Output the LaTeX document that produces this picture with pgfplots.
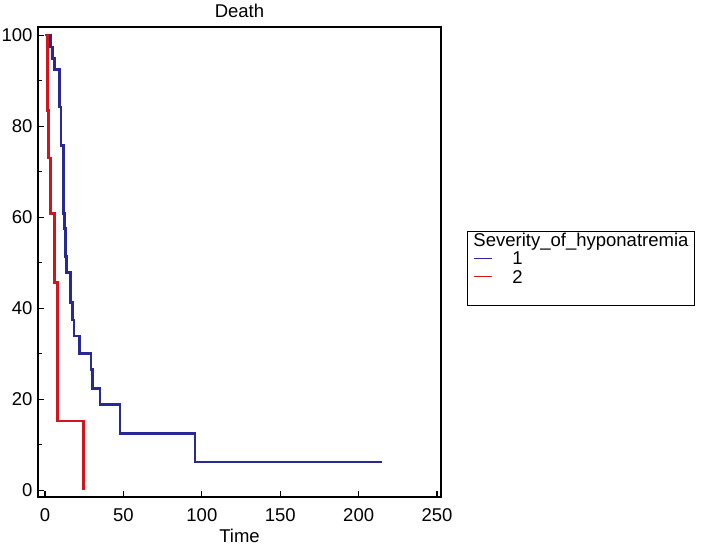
\documentclass[border=0pt]{standalone}
\usepackage{pgfplots}
\pgfplotsset{compat=1.18}
\usepackage{fontspec}
\setmainfont{Liberation Sans}

\definecolor{kmblue}{RGB}{40,40,150}
\definecolor{kmred}{RGB}{210,20,30}

\begin{document}
\begin{tikzpicture}
\useasboundingbox (-38pt,-50pt) rectangle (663pt,497pt);
\begin{axis}[
    scale only axis,
    width=403pt,
    height=470pt,
    xmin=-4.5, xmax=252.5,
    ymin=-1.5, ymax=101.8,
    xtick={0,50,100,150,200,250},
    ytick={0,20,40,60,80,100},
    minor y tick num=1,
    tick pos=left,
    tick align=inside,
    major tick length=6pt,
    minor tick length=4pt,
    axis line style={line width=2.6pt},
    every tick/.style={black, line width=1.2pt},
    font=\fontsize{18.5}{20}\selectfont,
    /pgf/number format/assume math mode=true,
    xticklabel style={yshift=-8pt},
    yticklabel style={xshift=-2pt},
    title={Death},
    xlabel={Time},
    xlabel style={yshift=-1pt},
    legend style={at={(1.0645,0.566)}, anchor=north west,
        draw=black, line width=1pt, inner xsep=4pt, inner ysep=0pt,
        font=\fontsize{18.5}{18}\selectfont, row sep=0pt,
        cells={anchor=west, inner ysep=0pt, text height=12.9pt, text depth=4.4pt}},
]
% Kaplan-Meier curves
\addplot[forget plot, const plot mark left, color=kmblue, line width=2.6pt] coordinates {
    (0,100) (3.6,97.4) (4.7,94.9) (5.9,92.4) (9.1,84.2) (10.2,75.7)
    (11.7,60.8) (12.3,57.5) (13.0,51.3) (13.8,47.8) (16.4,41.2)
    (17.4,37.4) (18.5,33.9) (21.9,30.0) (29.3,26.5) (30.2,22.4)
    (35.0,18.8) (47.8,12.5) (95.7,6.2) (215,6.2)
};
\addplot[forget plot, const plot mark left, color=kmred, line width=2.6pt] coordinates {
    (0,100) (1.5,83.4) (2.1,73.0) (3.6,60.8) (5.9,45.6) (7.9,15.2) (24.4,0)
};

% legend: line samples are set as coloured rules inside the entries
\addlegendimage{empty legend}
\addlegendentry{Severity\_of\_hyponatremia}
\addlegendimage{empty legend}
\addlegendentry{\hspace{1pt}\textcolor{kmblue}{\rule[6pt]{18pt}{0.9pt}}\hspace{20pt}1}
\addlegendimage{empty legend}
\addlegendentry{\hspace{1pt}\textcolor{kmred}{\rule[6pt]{18pt}{0.9pt}}\hspace{20pt}2}
\addlegendimage{empty legend}
\addlegendentry{}
\end{axis}
\end{tikzpicture}
\end{document}
